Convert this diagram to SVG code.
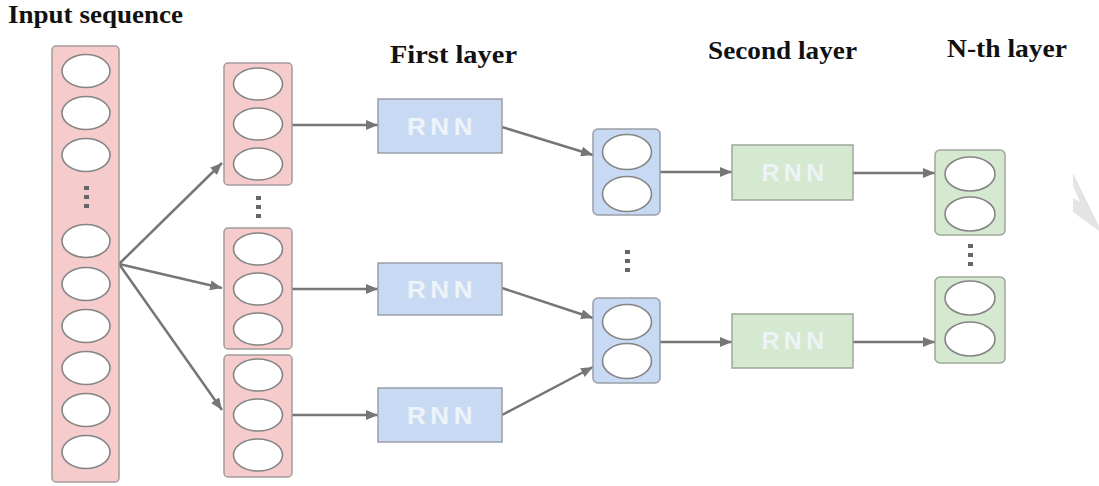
<svg xmlns="http://www.w3.org/2000/svg" width="1099" height="486" viewBox="0 0 1099 486">
<style>
.title{font-family:"Liberation Serif","Times New Roman",serif;font-weight:bold;font-size:26px;fill:#111;}
.pink{fill:#f5cbcb;stroke:#a39c9c;stroke-width:1.5;}
.blue{fill:#c8daf3;stroke:#9a9fa8;stroke-width:1.5;}
.green{fill:#d4e9cf;stroke:#9ea69b;stroke-width:1.5;}
.cell{fill:#ffffff;stroke:#858585;stroke-width:1.6;}
.rnn{font-family:"Liberation Sans",Arial,sans-serif;font-weight:bold;font-size:23px;fill:#eef3f8;text-anchor:middle;letter-spacing:4px;}
.dot{fill:#666;}
.conn{fill:none;stroke:#767676;stroke-width:2.5;}
</style>
<defs>
<marker id="arr" markerUnits="userSpaceOnUse" markerWidth="12" markerHeight="10" refX="12" refY="5" orient="auto">
<path d="M0,0 L12,5 L0,10 z" fill="#767676"/>
</marker>
</defs>
<rect width="1099" height="486" fill="#ffffff"/>
<polygon points="1073,173 1099,226 1099,231 1073,212 1073,198 1080,202 1073,186" fill="#e4e4e4"/>

<text class="title" x="8" y="23" textLength="175" lengthAdjust="spacingAndGlyphs">Input sequence</text>
<text class="title" x="390" y="63" textLength="127" lengthAdjust="spacingAndGlyphs">First layer</text>
<text class="title" x="708" y="59" textLength="149" lengthAdjust="spacingAndGlyphs">Second layer</text>
<text class="title" x="947" y="57" textLength="120" lengthAdjust="spacingAndGlyphs">N-th layer</text>

<g id="connectors">
<path class="conn" d="M119,264 L222,163" marker-end="url(#arr)"/>
<path class="conn" d="M119,264 L222,288" marker-end="url(#arr)"/>
<path class="conn" d="M119,264 L222,410" marker-end="url(#arr)"/>
<path class="conn" d="M292,125 L378,125" marker-end="url(#arr)"/>
<path class="conn" d="M292,289 L378,289" marker-end="url(#arr)"/>
<path class="conn" d="M292,415 L378,415" marker-end="url(#arr)"/>
<path class="conn" d="M502,127 L593,155" marker-end="url(#arr)"/>
<path class="conn" d="M502,288 L593,318" marker-end="url(#arr)"/>
<path class="conn" d="M502,415 L593,367" marker-end="url(#arr)"/>
<path class="conn" d="M660,172 L732,172" marker-end="url(#arr)"/>
<path class="conn" d="M853,173 L935,173" marker-end="url(#arr)"/>
<path class="conn" d="M660,342 L732,342" marker-end="url(#arr)"/>
<path class="conn" d="M853,342 L935,342" marker-end="url(#arr)"/>
</g>

<g id="input">
<rect class="pink" x="52" y="46" width="67" height="436" rx="4"/>
<ellipse class="cell" cx="86" cy="71" rx="24" ry="16.5"/>
<ellipse class="cell" cx="86" cy="113" rx="24" ry="16.5"/>
<ellipse class="cell" cx="86" cy="155" rx="24" ry="16.5"/>
<rect class="dot" x="84" y="186" width="5" height="4"/>
<rect class="dot" x="84" y="195" width="5" height="4"/>
<rect class="dot" x="84" y="204" width="5" height="4"/>
<ellipse class="cell" cx="86" cy="241" rx="24" ry="16.5"/>
<ellipse class="cell" cx="86" cy="284" rx="24" ry="16.5"/>
<ellipse class="cell" cx="86" cy="326" rx="24" ry="16.5"/>
<ellipse class="cell" cx="86" cy="368" rx="24" ry="16.5"/>
<ellipse class="cell" cx="86" cy="410" rx="24" ry="16.5"/>
<ellipse class="cell" cx="86" cy="452" rx="24" ry="16.5"/>
</g>

<g id="seg1">
<rect class="pink" x="224" y="63" width="68" height="122" rx="4"/>
<ellipse class="cell" cx="258" cy="84" rx="24.5" ry="16"/>
<ellipse class="cell" cx="258" cy="124" rx="24.5" ry="16"/>
<ellipse class="cell" cx="258" cy="164" rx="24.5" ry="16"/>
</g>
<g id="seg-dots">
<rect class="dot" x="256" y="196" width="5" height="4"/>
<rect class="dot" x="256" y="205" width="5" height="4"/>
<rect class="dot" x="256" y="214" width="5" height="4"/>
</g>
<g id="seg2">
<rect class="pink" x="224" y="228" width="68" height="121" rx="4"/>
<ellipse class="cell" cx="258" cy="249" rx="24.5" ry="16"/>
<ellipse class="cell" cx="258" cy="289" rx="24.5" ry="16"/>
<ellipse class="cell" cx="258" cy="329" rx="24.5" ry="16"/>
</g>
<g id="seg3">
<rect class="pink" x="224" y="355" width="68" height="122" rx="4"/>
<ellipse class="cell" cx="258" cy="375" rx="24.5" ry="16"/>
<ellipse class="cell" cx="258" cy="415" rx="24.5" ry="16"/>
<ellipse class="cell" cx="258" cy="455" rx="24.5" ry="16"/>
</g>

<g id="rnn1a">
<rect class="blue" x="378" y="99" width="124" height="54"/>
<text class="rnn" x="442" y="135" textLength="70" lengthAdjust="spacingAndGlyphs">RNN</text>
</g>
<g id="rnn1b">
<rect class="blue" x="378" y="263" width="124" height="52"/>
<text class="rnn" x="442" y="298" textLength="70" lengthAdjust="spacingAndGlyphs">RNN</text>
</g>
<g id="rnn1c">
<rect class="blue" x="378" y="388" width="124" height="54"/>
<text class="rnn" x="442" y="424" textLength="70" lengthAdjust="spacingAndGlyphs">RNN</text>
</g>

<g id="hid1a">
<rect class="blue" x="593" y="129" width="67" height="86" rx="5"/>
<ellipse class="cell" cx="627" cy="152" rx="24.5" ry="17.5"/>
<ellipse class="cell" cx="627" cy="194" rx="24.5" ry="17.5"/>
</g>
<g id="hid-dots">
<rect class="dot" x="625" y="250" width="5" height="4"/>
<rect class="dot" x="625" y="259" width="5" height="4"/>
<rect class="dot" x="625" y="268" width="5" height="4"/>
</g>
<g id="hid1b">
<rect class="blue" x="593" y="298" width="67" height="85" rx="5"/>
<ellipse class="cell" cx="627" cy="322" rx="24.5" ry="17.5"/>
<ellipse class="cell" cx="627" cy="361" rx="24.5" ry="17.5"/>
</g>

<g id="rnn2a">
<rect class="green" x="732" y="145" width="121" height="55"/>
<text class="rnn" x="795" y="181" textLength="67" lengthAdjust="spacingAndGlyphs">RNN</text>
</g>
<g id="rnn2b">
<rect class="green" x="732" y="314" width="121" height="54"/>
<text class="rnn" x="795" y="349" textLength="67" lengthAdjust="spacingAndGlyphs">RNN</text>
</g>

<g id="outA">
<rect class="green" x="935" y="150" width="70" height="85" rx="5"/>
<ellipse class="cell" cx="970" cy="174" rx="25" ry="17"/>
<ellipse class="cell" cx="970" cy="214" rx="25" ry="17"/>
</g>
<g id="out-dots">
<rect class="dot" x="968" y="244" width="5" height="4"/>
<rect class="dot" x="968" y="253" width="5" height="4"/>
<rect class="dot" x="968" y="262" width="5" height="4"/>
</g>
<g id="outB">
<rect class="green" x="935" y="277" width="70" height="86" rx="5"/>
<ellipse class="cell" cx="970" cy="298" rx="25" ry="17"/>
<ellipse class="cell" cx="970" cy="339" rx="25" ry="17"/>
</g>
</svg>
